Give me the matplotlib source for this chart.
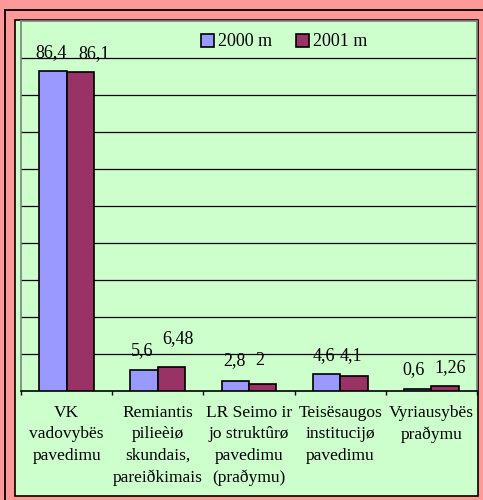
import matplotlib
matplotlib.use("Agg")
import matplotlib.pyplot as plt
from matplotlib.patches import Rectangle
from matplotlib.lines import Line2D
import numpy as np

# data
categories = ["VK\nvadovybës\npavedimu",
              "Remiantis\npilieèiø\nskundais,\npareiðkimais",
              "LR Seimo ir\njo struktûrø\npavedimu\n(praðymu)",
              "Teisësaugos\ninstitucijø\npavedimu",
              "Vyriausybës\npraðymu"]
series_names = ["2000 m", "2001 m"]
vals_2000 = [86.4, 5.6, 2.8, 4.6, 0.6]
vals_2001 = [86.1, 6.48, 2.0, 4.1, 1.26]
labels_2000 = ["86,4", "5,6", "2,8", "4,6", "0,6"]
labels_2001 = ["86,1", "6,48", "2", "4,1", "1,26"]

# label nudges in pixels (dx, baseline height above bar top)
nudge_2000 = [(-2, 14), (-2, 15), (-1, 16), (-3, 14), (-4, 15)]
nudge_2001 = [(14, 14), (6, 24), (-3, 19), (-3, 16), (5, 14)]

# colours
PINK = "#FF9999"
GREEN = "#CCFFCC"
BLUE = "#9999FF"
PLUM = "#993366"
FONT = "Liberation Serif"
FS = 12.5
FS_LAB = 13

W, H = 483, 500
PX = 0.72  # points per pixel at dpi 100
fig = plt.figure(figsize=(W / 100, H / 100), dpi=100)
fig.patch.set_facecolor(PINK)

# outer black frame (runs off the right/bottom edge)
fig.add_artist(Line2D([5 / W, 5 / W], [0, 1 - 10 / H], transform=fig.transFigure,
                      color="black", lw=1.3))
fig.add_artist(Line2D([5 / W, 1], [1 - 10 / H, 1 - 10 / H], transform=fig.transFigure,
                      color="black", lw=1.3))
# green chart area
fig.add_artist(Rectangle((15 / W, 1 - 496 / H), (478 - 15) / W, (496 - 20) / H,
                         transform=fig.transFigure, facecolor=GREEN,
                         edgecolor="black", lw=1.2, zorder=0))

ax = fig.add_axes([21 / W, 1 - 391 / H, (477 - 21) / W, (391 - 21) / H])
ax.patch.set_alpha(0)

x = np.arange(len(categories))
bw = 0.3
b1 = ax.bar(x - bw / 2, vals_2000, bw, color=BLUE, edgecolor="black", lw=1.2,
            label=series_names[0], zorder=3)
b2 = ax.bar(x + bw / 2, vals_2001, bw, color=PLUM, edgecolor="black", lw=1.2,
            label=series_names[1], zorder=3)

for bars, labs, nud in ((b1, labels_2000, nudge_2000), (b2, labels_2001, nudge_2001)):
    for r, t, (dx, dy) in zip(bars, labs, nud):
        ax.annotate(t, (r.get_x() + r.get_width() / 2, r.get_height()),
                    xytext=(dx * PX, dy * PX), textcoords="offset points",
                    ha="center", va="baseline", fontsize=FS_LAB, family=FONT)

ax.set_xlim(-0.5, len(categories) - 0.5)
ax.set_ylim(0, 100)
ax.set_yticks(np.arange(10, 100, 10))
ax.yaxis.grid(True, color="black", lw=0.9, zorder=1)
ax.tick_params(axis="y", length=0, labelleft=False)

ax.set_xticks(np.arange(len(categories) + 1) - 0.5)
ax.set_xticklabels([])
ax.tick_params(axis="x", which="major", direction="out", length=3, width=1, color="black")
ax.set_xticks(x, minor=True)
ax.set_xticklabels(categories, minor=True, fontsize=FS, family=FONT)
ax.tick_params(axis="x", which="minor", length=0, pad=10)
for t in ax.get_xticklabels(minor=True):
    t.set_linespacing(1.45)

for s in ("left", "right", "top"):
    ax.spines[s].set_color("#808080")
    ax.spines[s].set_linewidth(1.2)
ax.spines["bottom"].set_color("black")
ax.spines["bottom"].set_linewidth(1.2)

fig.legend(handles=[b1, b2], loc="center", bbox_to_anchor=(284 / W, 1 - 42 / H),
           ncol=2, frameon=False, prop={"family": FONT, "size": FS_LAB},
           handlelength=0.75, handleheight=0.75, handletextpad=0.2,
           columnspacing=1.3)

fig.savefig("out.png", dpi=100, facecolor=fig.get_facecolor())
